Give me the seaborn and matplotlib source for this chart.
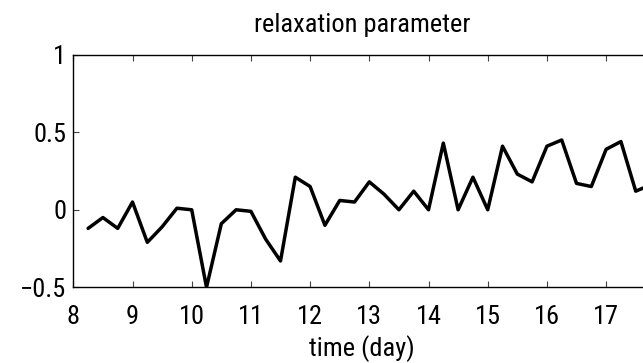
import matplotlib
matplotlib.use("Agg")
import matplotlib.pyplot as plt
import numpy as np
import pandas as pd
import seaborn as sns

# Relaxation parameter sampled every 6 hours
time_day = [8.25, 8.5, 8.75, 9.0, 9.25, 9.5, 9.75, 10.0, 10.25, 10.5,
            10.75, 11.0, 11.25, 11.5, 11.75, 12.0, 12.25, 12.5, 12.75, 13.0,
            13.25, 13.5, 13.75, 14.0, 14.25, 14.5, 14.75, 15.0, 15.25, 15.5,
            15.75, 16.0, 16.25, 16.5, 16.75, 17.0, 17.25, 17.5, 17.75]
relaxation = [-0.12, -0.05, -0.12, 0.05, -0.21, -0.11, 0.01, 0.00, -0.50, -0.09,
              0.00, -0.01, -0.19, -0.33, 0.21, 0.15, -0.10, 0.06, 0.05, 0.18,
              0.10, 0.00, 0.12, 0.00, 0.43, 0.00, 0.21, 0.00, 0.41, 0.23,
              0.18, 0.41, 0.45, 0.17, 0.15, 0.39, 0.44, 0.12, 0.16]

x_ticks = [8, 9, 10, 11, 12, 13, 14, 15, 16, 17]
y_ticks = [-0.5, 0, 0.5, 1]
y_tick_labels = ["\u22120.5", "0", "0.5", "1"]

df = pd.DataFrame({"time": time_day, "value": relaxation})

fsize = 19

sns.set_style("ticks")
plt.rcParams["font.family"] = ["Roboto Condensed", "DejaVu Sans"]
plt.rcParams["font.weight"] = "normal"
plt.rcParams["font.size"] = fsize
plt.rcParams["text.color"] = "black"
plt.rcParams["axes.labelcolor"] = "black"

fig = plt.figure(figsize=(6.43, 3.63), dpi=100)
ax = fig.add_axes([0.114, 0.2085, 0.8977, 0.6408])

sns.lineplot(data=df, x="time", y="value", ax=ax, color="black",
             linewidth=2.5)

ax.set_xlim(8, 17.75)
ax.set_ylim(-0.5, 1)
ax.set_xticks(x_ticks)
ax.set_yticks(y_ticks)
ax.set_yticklabels(y_tick_labels)

for side in ["top", "bottom", "left", "right"]:
    ax.spines[side].set_visible(True)
    ax.spines[side].set_linewidth(1.0)
    ax.spines[side].set_color("black")

ax.tick_params(axis="both", which="major", direction="in", length=4,
               width=0.8, color="#444444", labelsize=fsize,
               top=True, right=True, labelcolor="black")
ax.tick_params(axis="x", pad=13)
ax.tick_params(axis="y", pad=5)

ax.set_xlabel("time (day)", fontsize=fsize, labelpad=4, color="black")
ax.set_ylabel("")
ax.set_title("relaxation parameter", fontsize=fsize, pad=16, color="black")

fig.savefig("out.png", dpi=100)
